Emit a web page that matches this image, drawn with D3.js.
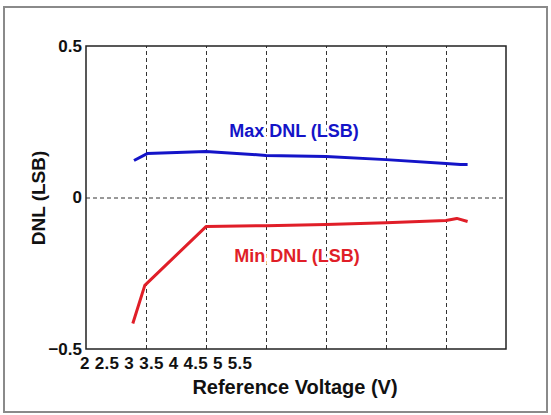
<!DOCTYPE html>
<html>
<head>
<meta charset="utf-8">
<script src="https://cdn.jsdelivr.net/npm/d3@7"></script>
<style>
  body { margin: 0; background: #fff; }
  svg { display: block; font-family: "Liberation Sans", Arial, sans-serif; }
</style>
</head>
<body>
<svg id="chart" width="551" height="415"></svg>
<script>
// x positions in volts, y in LSB
var maxX = [2.4, 2.51, 3.0, 3.5, 4.0, 4.5, 5.0, 5.12, 5.18];
var maxY = [0.122, 0.145, 0.152, 0.139, 0.135, 0.125, 0.112, 0.109, 0.109];
var minX = [2.39, 2.49, 3.0, 3.5, 4.0, 4.5, 5.0, 5.09, 5.18];
var minY = [-0.416, -0.29, -0.096, -0.093, -0.089, -0.083, -0.076, -0.069, -0.079];
var gridTicks = [2.5, 3, 3.5, 4, 4.5, 5];
var yTicks = [-0.5, 0, 0.5];
var xTickLabels = ['2', '2.5', '3', '3.5', '4', '4.5', '5', '5.5'];

const svg = d3.select('#chart');
const mLeft = 86, mRight = 506, mTop = 46, mBottom = 349;

// outer frame
svg.append('rect')
    .attr('x', 4).attr('y', 7)
    .attr('width', 543).attr('height', 405)
    .attr('fill', 'none')
    .attr('stroke', '#8a8a8a')
    .attr('stroke-width', 2);

const x = d3.scaleLinear().domain([2, 5.5]).range([mLeft, mRight]);
const y = d3.scaleLinear().domain([-0.5, 0.5]).range([mBottom, mTop]);

// dashed grid
svg.append('g')
    .attr('transform', `translate(0,${mBottom})`)
    .call(d3.axisBottom(x).tickValues(gridTicks).tickSize(-(mBottom - mTop)).tickFormat(''))
    .call(g => g.select('.domain').remove())
    .selectAll('line')
    .attr('stroke', '#333')
    .attr('stroke-dasharray', '4,3');

svg.append('g')
    .attr('transform', `translate(${mLeft},0)`)
    .call(d3.axisLeft(y).tickValues([0]).tickSize(-(mRight - mLeft)).tickFormat(''))
    .call(g => g.select('.domain').remove())
    .selectAll('line')
    .attr('stroke', '#333')
    .attr('stroke-dasharray', '4,3');

// y labels
svg.append('g')
    .attr('transform', `translate(${mLeft},0)`)
    .call(d3.axisLeft(y).tickValues(yTicks).tickSize(0).tickPadding(4).tickFormat(d3.format('')))
    .call(g => g.select('.domain').remove())
    .selectAll('text')
    .attr('font-size', 17)
    .attr('font-weight', 'bold')
    .attr('font-family', '"Liberation Sans", Arial, sans-serif')
    .attr('fill', '#111');

// plot frame
svg.append('rect')
    .attr('x', mLeft).attr('y', mTop)
    .attr('width', mRight - mLeft).attr('height', mBottom - mTop)
    .attr('fill', 'none')
    .attr('stroke', '#222')
    .attr('stroke-width', 1.5);

// x tick labels: run together under the left end, as in the original
const xl = svg.append('text')
    .attr('x', 80).attr('y', 369)
    .attr('font-size', 17)
    .attr('font-weight', 'bold')
    .attr('fill', '#111')
    .attr('letter-spacing', 0.3)
    .attr('xml:space', 'preserve');
xl.selectAll('tspan')
    .data(xTickLabels)
    .join('tspan')
    .text((d, i) => (i ? ' ' : '') + d);

// curves
const line = d3.line().x(d => x(d[0])).y(d => y(d[1]));
svg.append('path')
    .datum(d3.zip(maxX, maxY))
    .attr('d', line)
    .attr('fill', 'none')
    .attr('stroke', '#1414c8')
    .attr('stroke-width', 3)
    .attr('stroke-linejoin', 'round');
svg.append('path')
    .datum(d3.zip(minX, minY))
    .attr('d', line)
    .attr('fill', 'none')
    .attr('stroke', '#e01e28')
    .attr('stroke-width', 3)
    .attr('stroke-linejoin', 'round');

// series labels, with a white halo that hides the grid behind them
svg.append('text')
    .attr('x', 294).attr('y', 137)
    .attr('text-anchor', 'middle')
    .attr('font-size', 18)
    .attr('font-weight', 'bold')
    .attr('fill', '#1414c8')
    .attr('stroke', '#fff')
    .attr('stroke-width', 5)
    .attr('paint-order', 'stroke')
    .text('Max DNL (LSB)');
svg.append('text')
    .attr('x', 297).attr('y', 262)
    .attr('text-anchor', 'middle')
    .attr('font-size', 18)
    .attr('font-weight', 'bold')
    .attr('fill', '#e01e28')
    .attr('stroke', '#fff')
    .attr('stroke-width', 5)
    .attr('paint-order', 'stroke')
    .text('Min DNL (LSB)');

// axis titles
svg.append('text')
    .attr('x', 295).attr('y', 394)
    .attr('text-anchor', 'middle')
    .attr('font-size', 20)
    .attr('font-weight', 'bold')
    .attr('fill', '#111')
    .text('Reference Voltage (V)');
svg.append('text')
    .attr('transform', 'translate(45,198) rotate(-90)')
    .attr('text-anchor', 'middle')
    .attr('font-size', 19)
    .attr('font-weight', 'bold')
    .attr('fill', '#111')
    .text('DNL (LSB)');
</script>
</body>
</html>
